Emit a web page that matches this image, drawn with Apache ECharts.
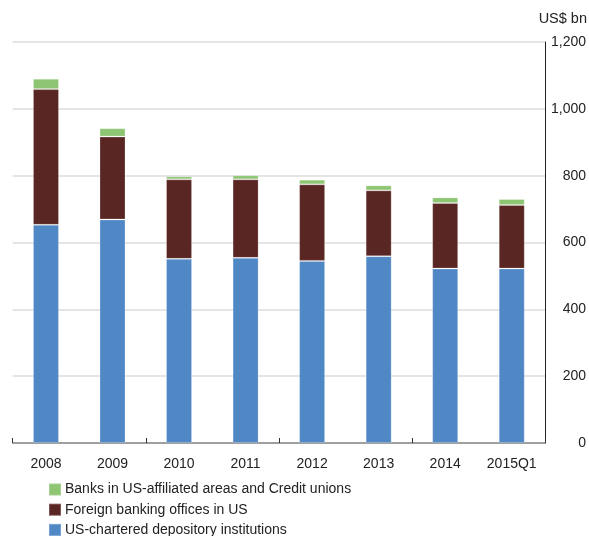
<!DOCTYPE html>
<html>
<head>
<meta charset="utf-8">
<script src="https://cdn.jsdelivr.net/npm/echarts@6/dist/echarts.min.js"></script>
<style>
html,body{margin:0;padding:0;background:#fff;}
#chart{width:589px;height:536px;}
</style>
</head>
<body>
<div id="chart"></div>
<script>
const categories = ['2008', '2009', '2010', '2011', '2012', '2013', '2014', '2015Q1'];
const usChartered = [653, 669, 551, 554, 545, 559, 522, 522];
const foreignOffices = [406, 248, 238, 235, 229, 197, 196, 190];
const affiliatedCU = [31, 25, 9, 12, 14, 15, 17, 18];
const yTicks = [0, 200, 400, 600, 800, 1000, 1200];

const names = [
  'Banks in US-affiliated areas and Credit unions',
  'Foreign banking offices in US',
  'US-chartered depository institutions'
];
const colors = { green: '#8dc572', maroon: '#5a2623', blue: '#5088c6' };
const font = 'Liberation Sans, Arial, sans-serif';

const chart = echarts.init(document.getElementById('chart'));
const barStyle = (c) => ({ color: c, borderColor: 'rgba(255,255,255,0.22)', borderWidth: 1 });

chart.setOption({
  animation: false,
  textStyle: { fontFamily: font },
  grid: { left: 12.7, right: 43, top: 42, bottom: 93, containLabel: false },
  graphic: [{
    type: 'text', right: 2, top: 11,
    style: { text: 'US$ bn', font: '14.5px ' + font, fill: '#222' }
  }],
  legend: {
    orient: 'vertical', left: 48, top: 482.5, height: 60,
    padding: 0,
    itemWidth: 12, itemHeight: 12, itemGap: 6.2,
    icon: 'rect',
    data: names,
    textStyle: { fontSize: 14, color: '#222', fontFamily: font, padding: [0, 0, 0, -1] }
  },
  xAxis: {
    type: 'category',
    data: categories,
    axisLine: { show: true, lineStyle: { color: '#888', width: 1.5 } },
    axisTick: { show: true, inside: true, interval: (i) => i % 2 === 0, length: 5, lineStyle: { color: '#333' } },
    axisLabel: { color: '#222', fontSize: 14, margin: 14, fontFamily: font, interval: 0 }
  },
  yAxis: {
    type: 'value',
    position: 'right',
    min: yTicks[0], max: yTicks[yTicks.length - 1], interval: 200,
    axisLine: { show: true, lineStyle: { color: '#222', width: 1 } },
    axisTick: { show: false },
    splitLine: { show: true, lineStyle: { color: '#dddddd', width: 1.5 } },
    axisLabel: {
      color: '#222', fontSize: 14, fontFamily: font, align: 'right', margin: 41,
      formatter: (v) => v.toLocaleString('en-US')
    }
  },
  series: [
    { name: names[2], type: 'bar', stack: 'total', data: usChartered, barWidth: 26, itemStyle: barStyle(colors.blue) },
    { name: names[1], type: 'bar', stack: 'total', data: foreignOffices, barWidth: 26, itemStyle: barStyle(colors.maroon) },
    { name: names[0], type: 'bar', stack: 'total', data: affiliatedCU, barWidth: 26, itemStyle: barStyle(colors.green) }
  ]
});
</script>
</body>
</html>
